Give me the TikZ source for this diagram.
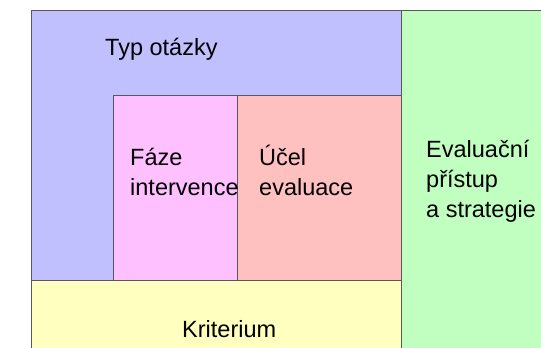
\documentclass[tikz,border=0pt]{standalone}
\usepackage{fontspec}
\setmainfont{Liberation Sans}
\begin{document}
\begin{tikzpicture}[x=1pt,y=-1pt,
  box/.style={draw=black!65, line width=0.7pt},
  lbl/.style={font=\fontsize{23.5}{30}\selectfont, inner sep=0pt, align=left, anchor=base west}]
\useasboundingbox (0,0) rectangle (541,348);
\clip (0,0) rectangle (541,348);
\definecolor{cblue}{HTML}{C0C0FF}
\definecolor{cpink}{HTML}{FFC0FF}
\definecolor{csalmon}{HTML}{FFC0C0}
\definecolor{cyellow}{HTML}{FFFFC0}
\definecolor{cgreen}{HTML}{C0FFC0}
\path[box, fill=cblue] (31,10) rectangle (401,280);
\path[box, fill=cpink] (113,95) rectangle (237,280);
\path[box, fill=csalmon] (237,95) rectangle (401,280);
\path[box, fill=cyellow] (31,280) rectangle (401,360);
\path[box, fill=cgreen] (401,10) rectangle (560,360);
\node[lbl] (typ) at (105,55) {Typ otázky};
\node[lbl] (faze) at (130,195) {Fáze\\intervence};
\node[lbl] (ucel) at (259,195) {Účel\\evaluace};
\node[lbl] (eval) at (426,217) {Evaluační\\přístup\\a strategie};
\node[lbl] (krit) at (182,337) {Kriterium};
\end{tikzpicture}
\end{document}
